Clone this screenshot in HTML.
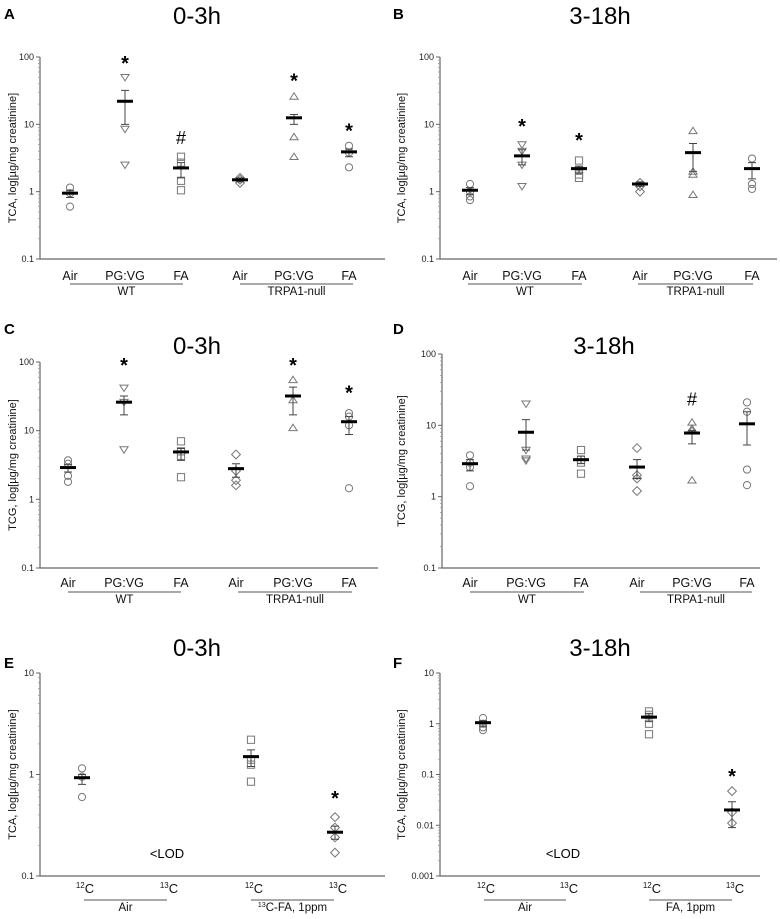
<!DOCTYPE html>
<html><head><meta charset="utf-8">
<style>
html,body{margin:0;padding:0;background:#fff;}
svg{display:block;font-family:"Liberation Sans",sans-serif;}
</style></head>
<body>
<svg id="fig" width="780" height="919" viewBox="0 0 780 919" xmlns="http://www.w3.org/2000/svg"></svg>
<script>
// ---- Data ----
const groupCats = ["Air","PG:VG","FA","Air","PG:VG","FA"];
const isoCats = ["12","13","12","13"];

const aPoints = [[1.15,0.95,0.6],[50,8.5,2.5],[3.3,2.7,1.45,1.05],[1.6,1.5,1.35],[26,6.5,3.3],[4.8,3.8,2.3]];
const aMeans = [0.95,22,2.25,1.5,12.5,3.9];
const aSemLo = [0.82,10,1.6,1.4,10,3.3];
const aSemHi = [1.05,32,2.7,1.6,14,4.3];
const aMarks = ["","*","#","","*","*"];
const aMarkVals = [0,90,6.3,0,50,9];

const bPoints = [[1.3,1.0,0.85,0.75],[5,4,2.5,1.2],[2.9,2.1,1.8,1.6],[1.35,1.2,1.0],[8,2.0,1.8,0.9],[3.1,1.3,1.1]];
const bMeans = [1.05,3.4,2.2,1.3,3.8,2.2];
const bSemLo = [0.9,2.5,1.9,1.2,2.0,1.55];
const bSemHi = [1.15,4.2,2.4,1.4,5.2,2.7];
const bMarks = ["","*","*","","",""];
const bMarkVals = [0,10.5,6.5,0,0,0];

const cPoints = [[3.7,3.3,2.2,1.8],[42,26,5.3],[7,5,4.3,2.1],[4.5,2.6,1.9,1.6],[55,28,11],[18,16,12,1.45]];
const cMeans = [2.9,26,4.9,2.8,32,13.5];
const cSemLo = [2.5,17,3.7,2.1,17,8.8];
const cSemHi = [3.2,32,5.5,3.3,43,16];
const cMarks = ["","*","","","*","*"];
const cMarkVals = [0,100,0,0,100,40];

const dPoints = [[3.8,3.0,2.6,1.4],[20,4.5,3.4,3.2],[4.5,3.3,3.0,2.1],[4.8,2.0,1.8,1.2],[11,9,8.5,1.7],[21,15.5,2.4,1.45]];
const dMeans = [2.9,8,3.3,2.6,7.8,10.5];
const dSemLo = [2.3,4.5,2.9,1.8,5.5,5.3];
const dSemHi = [3.3,12,3.7,3.3,8.5,15.5];
const dMarks = ["","","","","#",""];
const dMarkVals = [0,0,0,0,23,0];

const ePoints = [[1.15,0.95,0.6],[],[2.2,1.4,1.25,0.85],[0.38,0.3,0.24,0.17]];
const eMeans = [0.93,null,1.5,0.27];
const eSemLo = [0.8,null,1.2,0.23];
const eSemHi = [1.0,null,1.75,0.31];
const eMarks = ["","","","*"];
const eMarkVals = [0,0,0,0.63];

const fPoints = [[1.3,1.0,0.85,0.75],[],[1.75,1.5,1.0,0.62],[0.047,0.018,0.011]];
const fMeans = [1.05,null,1.35,0.02];
const fSemLo = [0.9,null,1.1,0.009];
const fSemHi = [1.15,null,1.6,0.029];
const fMarks = ["","","","*"];
const fMarkVals = [0,0,0,0.107];

const yTicks3 = [0.1,1,10,100];
const yTicksE = [0.1,1,10];
const yTicksF = [0.001,0.01,0.1,1,10];

// ---- Drawing ----
const NS="http://www.w3.org/2000/svg";
const svg=document.getElementById('fig');
function mk(tag,attrs,parent,text){const e=document.createElementNS(NS,tag);for(const k in attrs)e.setAttribute(k,attrs[k]);if(text!==undefined)e.textContent=text;(parent||svg).appendChild(e);return e;}

function marker(g,type,x,y){
  const s=3.6, st={fill:"none",stroke:"#777","stroke-width":1};
  let e;
  if(type==="circle") e=mk("circle",Object.assign({cx:x,cy:y,r:s},st),g);
  else if(type==="square") e=mk("rect",Object.assign({x:x-s,y:y-s,width:2*s,height:2*s},st),g);
  else if(type==="diamond") e=mk("polygon",Object.assign({points:`${x},${y-s-0.8} ${x+s+0.8},${y} ${x},${y+s+0.8} ${x-s-0.8},${y}`},st),g);
  else if(type==="tridown") e=mk("polygon",Object.assign({points:`${x-s-0.5},${y-s+0.8} ${x+s+0.5},${y-s+0.8} ${x},${y+s}`},st),g);
  else e=mk("polygon",Object.assign({points:`${x-s-0.5},${y+s-0.8} ${x+s+0.5},${y+s-0.8} ${x},${y-s}`},st),g);
  
  
}

function panel(p){
  const g=mk("g",{});
  
  
  const lmin=Math.log10(p.ymin), lmax=Math.log10(p.ymax);
  const Y=v=>p.bottom-(Math.log10(v)-lmin)/(lmax-lmin)*(p.bottom-p.top);
  const X=i=>p.cx[i];
  const L=mk("text",{x:p.lx,y:p.ly,"font-size":15,"font-weight":"bold"},g,p.letter);
  
  const T=mk("text",{x:p.tx,y:p.ty,"font-size":24,"text-anchor":"middle"},g,p.title);
  
  const ax=mk("path",{d:`M${p.ax},${p.top} V${p.bottom} H${p.right}`,stroke:"#666","stroke-width":1.2,fill:"none"},g);
  
  for(let d=0; d<p.ticks.length; d++){
    const v=p.ticks[d], y=Y(v);
    mk("line",{x1:p.ax-4,x2:p.ax,y1:y,y2:y,stroke:"#666","stroke-width":1},g);
    const t=mk("text",{x:p.ax-6,y:y+3,"font-size":9,"text-anchor":"end",fill:"#222"},g,String(v));
    
    if(d<p.ticks.length-1){for(let m=2;m<=9;m++){const ym=Y(v*m);mk("line",{x1:p.ax-2,x2:p.ax,y1:ym,y2:ym,stroke:"#999","stroke-width":0.8},g);}}
  }
  const yt=mk("text",{transform:`translate(${p.ylx},${(p.top+p.bottom)/2}) rotate(-90)`,"font-size":11,"text-anchor":"middle",fill:"#111"},g,p.ylabel);
  
  p.cats.forEach((c,i)=>{
    let t;
    if(p.iso){
      t=mk("text",{x:X(i)+3,y:p.catY,"font-size":13,"text-anchor":"middle",fill:"#111"},g);
      mk("tspan",{"font-size":8,dy:-5},t,c);mk("tspan",{dy:5},t,"C");
    } else t=mk("text",{x:X(i),y:p.catY,"font-size":12.5,"text-anchor":"middle",fill:"#111"},g,c);
    
  });
  p.groups.forEach(gr=>{
    mk("line",{x1:gr.x1,x2:gr.x2,y1:p.gy,y2:p.gy,stroke:"#555","stroke-width":1},g);
    let t;
    if(gr.sup){t=mk("text",{x:(gr.x1+gr.x2)/2,y:p.gy+11,"font-size":11.5,"text-anchor":"middle",fill:"#111"},g);mk("tspan",{"font-size":7,dy:-4},t,gr.sup);mk("tspan",{dy:4},t,gr.label);}
    else t=mk("text",{x:(gr.x1+gr.x2)/2,y:p.gy+11,"font-size":11.5,"text-anchor":"middle",fill:"#111"},g,gr.label);
    
  });
  p.points.forEach((arr,i)=>{
    arr.forEach(v=>marker(g,p.mtypes[i],X(i),Y(v)));
    if(p.means[i]!=null){
      const x=X(i), ylo=Y(p.lo[i]), yhi=Y(p.hi[i]);
      const eb=mk("path",{d:`M${x},${ylo}V${yhi}M${x-4},${ylo}H${x+4}M${x-4},${yhi}H${x+4}`,stroke:"#444","stroke-width":1,fill:"none"},g);
      
      const mb=mk("line",{x1:x-8,x2:x+8,y1:Y(p.means[i]),y2:Y(p.means[i]),stroke:"#000","stroke-width":3},g);
      
    }
    if(p.marks[i]){
      const s=p.marks[i]==="*";
      const t=mk("text",{x:X(i),y:Y(p.markVals[i])+(s?10:6),"font-size":s?20:18,"text-anchor":"middle","font-weight":s?"bold":"normal"},g,p.marks[i]);
      
    }
  });
  if(p.lod){const t=mk("text",{x:p.lod[0],y:p.lod[1],"font-size":13,"text-anchor":"middle"},g,"<LOD");}
}

const m6=["circle","tridown","square","diamond","triup","circle"];
const m4=["circle","circle","square","diamond"];
const yl1="TCA, log[µg/mg creatinine]", yl2="TCG, log[µg/mg creatinine]";

panel({letter:"A",lx:4,ly:19,title:"0-3h",tx:197,ty:24,ax:40,top:57,bottom:259,right:385,ymin:0.1,ymax:100,ticks:yTicks3,ylx:16,ylabel:yl1,
 cx:[70,125,181,240,294,349],cats:groupCats,catY:280,gy:284,groups:[{x1:70,x2:183,label:"WT"},{x1:240,x2:353,label:"TRPA1-null"}],
 points:aPoints,means:aMeans,lo:aSemLo,hi:aSemHi,marks:aMarks,markVals:aMarkVals,mtypes:m6});
panel({letter:"B",lx:393,ly:19,title:"3-18h",tx:600,ty:24,ax:440,top:57,bottom:259,right:777,ymin:0.1,ymax:100,ticks:yTicks3,ylx:405,ylabel:yl1,
 cx:[470,522,579,640,693,752],cats:groupCats,catY:280,gy:284,groups:[{x1:468,x2:582,label:"WT"},{x1:638,x2:753,label:"TRPA1-null"}],
 points:bPoints,means:bMeans,lo:bSemLo,hi:bSemHi,marks:bMarks,markVals:bMarkVals,mtypes:m6});
panel({letter:"C",lx:4,ly:334,title:"0-3h",tx:197,ty:354,ax:40,top:362,bottom:568,right:378,ymin:0.1,ymax:100,ticks:yTicks3,ylx:16,ylabel:yl2,
 cx:[68,124,181,236,293,349],cats:groupCats,catY:587,gy:592,groups:[{x1:68,x2:181,label:"WT"},{x1:238,x2:352,label:"TRPA1-null"}],
 points:cPoints,means:cMeans,lo:cSemLo,hi:cSemHi,marks:cMarks,markVals:cMarkVals,mtypes:m6});
panel({letter:"D",lx:393,ly:334,title:"3-18h",tx:604,ty:354,ax:442,top:354,bottom:568,right:760,ymin:0.1,ymax:100,ticks:yTicks3,ylx:405,ylabel:yl2,
 cx:[470,526,581,637,692,747],cats:groupCats,catY:587,gy:592,groups:[{x1:470,x2:584,label:"WT"},{x1:640,x2:752,label:"TRPA1-null"}],
 points:dPoints,means:dMeans,lo:dSemLo,hi:dSemHi,marks:dMarks,markVals:dMarkVals,mtypes:m6});
panel({letter:"E",lx:4,ly:668,title:"0-3h",tx:197,ty:656,ax:40,top:673,bottom:876,right:385,ymin:0.1,ymax:10,ticks:yTicksE,ylx:16,ylabel:yl1,iso:true,
 cx:[82,166,251,335],cats:isoCats,catY:893,gy:900,groups:[{x1:84,x2:167,label:"Air"},{x1:251,x2:334,label:"C-FA, 1ppm",sup:"13"}],
 points:ePoints,means:eMeans,lo:eSemLo,hi:eSemHi,marks:eMarks,markVals:eMarkVals,mtypes:m4,lod:[167,858]});
panel({letter:"F",lx:393,ly:668,title:"3-18h",tx:600,ty:656,ax:440,top:673,bottom:876,right:760,ymin:0.001,ymax:10,ticks:yTicksF,ylx:405,ylabel:yl1,iso:true,
 cx:[483,566,649,732],cats:isoCats,catY:893,gy:900,groups:[{x1:484,x2:566,label:"Air"},{x1:649,x2:732,label:"FA, 1ppm"}],
 points:fPoints,means:fMeans,lo:fSemLo,hi:fSemHi,marks:fMarks,markVals:fMarkVals,mtypes:m4,lod:[563,858]});
</script>
</body></html>
